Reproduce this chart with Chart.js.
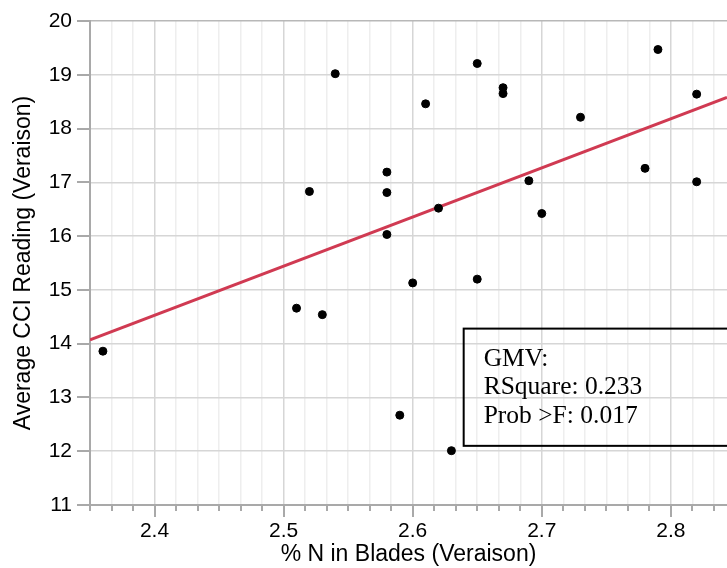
<!DOCTYPE html>
<html>
<head>
<meta charset="utf-8">
<script src="https://cdn.jsdelivr.net/npm/chart.js@4/dist/chart.umd.min.js"></script>
<style>
  html, body { margin: 0; padding: 0; background: #fff; }
  #wrap { width: 727px; height: 568px; }
</style>
</head>
<body>
<div id="wrap"><canvas id="cciChart" width="727" height="568"></canvas></div>
<script>
// % N in blades vs average CCI reading, both at veraison
let nBlades = [2.36, 2.51, 2.53, 2.52, 2.54, 2.58, 2.58, 2.58, 2.59, 2.60, 2.61, 2.62,
               2.63, 2.65, 2.65, 2.67, 2.67, 2.69, 2.70, 2.73, 2.78, 2.79, 2.82, 2.82];
let cciReading = [13.86, 14.66, 14.54, 16.83, 19.02, 17.19, 16.81, 16.03, 12.67, 15.13, 18.46, 16.52,
                  12.01, 19.21, 15.20, 18.76, 18.65, 17.03, 16.42, 18.21, 17.26, 19.47, 18.64, 17.01];

// fitted line, read at both ends of the x range
let fitX = [2.35, 2.8435];
let fitY = [14.07, 18.58];

let xMajorTicks = [2.4, 2.5, 2.6, 2.7, 2.8];
let yTicks = [11, 12, 13, 14, 15, 16, 17, 18, 19, 20];
let statsLines = ['GMV:', 'RSquare: 0.233', 'Prob >F: 0.017'];

let xMin = 2.35, xMax = 2.8435;
let yMin = 11, yMax = 20;

let axisFont = 'Liberation Sans, Arial, Helvetica, sans-serif';

// x gets 5 minor lines between each pair of labelled ticks
function buildXTicks() {
    let out = [];
    let step = 0.1 / 6;
    for (let m = 2.3; m < 2.95; m += 0.1) {
        let base = Math.round(m * 10) / 10;
        for (let j = 0; j < 6; j++) {
            let v = base + j * step;
            if (v >= xMin - 1e-9 && v <= xMax + 1e-9) {
                let isMajor = j === 0 && xMajorTicks.some(t => Math.abs(t - base) < 1e-9);
                out.push({ value: v, major: isMajor });
            }
        }
    }
    return out;
}

let points = nBlades.map((x, i) => ({ x: x, y: cciReading[i] }));
let fitPoints = fitX.map((x, i) => ({ x: x, y: fitY[i] }));

// tick marks outside the plot: long at labelled ticks, short at minor ones
let tickMarks = {
    id: 'tickMarks',
    afterDraw(chart) {
        let ctx = chart.ctx;
        let xs = chart.scales.x, ys = chart.scales.y;
        let area = chart.chartArea;
        ctx.save();
        ctx.strokeStyle = '#a9a9a9';
        ctx.lineWidth = 2;
        ctx.beginPath();
        xs.ticks.forEach(t => {
            let px = Math.round(xs.getPixelForValue(t.value));
            ctx.moveTo(px, area.bottom);
            ctx.lineTo(px, area.bottom + (t.major ? 12 : 6));
        });
        yTicks.forEach(v => {
            let py = Math.round(ys.getPixelForValue(v));
            ctx.moveTo(area.left, py);
            ctx.lineTo(area.left - 13, py);
        });
        ctx.stroke();
        ctx.restore();
    }
};

// boxed fit statistics, anchored in data units
let statsBox = {
    id: 'statsBox',
    afterDatasetsDraw(chart) {
        let ctx = chart.ctx;
        let xs = chart.scales.x, ys = chart.scales.y;
        let left = xs.getPixelForValue(2.6395);
        let top = ys.getPixelForValue(14.28);
        let bottom = ys.getPixelForValue(12.1);
        ctx.save();
        ctx.strokeStyle = '#000';
        ctx.lineWidth = 2;
        ctx.strokeRect(left, top, chart.width + 20 - left, bottom - top);
        ctx.fillStyle = '#000';
        ctx.font = '25.5px "Liberation Serif", "Times New Roman", serif';
        ctx.textBaseline = 'alphabetic';
        ctx.textAlign = 'left';
        statsLines.forEach((s, i) => {
            ctx.fillText(s, left + 20, top + 37.5 + i * 28.3);
        });
        ctx.restore();
    }
};

let ctx = document.getElementById('cciChart').getContext('2d');

let myChart = new Chart(ctx, {
    type: 'scatter',
    data: {
        datasets: [
            {
                label: 'CCI',
                data: points,
                backgroundColor: '#000',
                borderColor: '#000',
                pointRadius: 4,
                pointHoverRadius: 4,
                order: 1
            },
            {
                type: 'line',
                label: 'Fit',
                data: fitPoints,
                borderColor: '#d03a52',
                borderWidth: 3,
                pointRadius: 0,
                fill: false,
                order: 2
            }
        ]
    },
    options: {
        responsive: false,
        maintainAspectRatio: false,
        animation: false,
        layout: { autoPadding: false, padding: { top: 21, right: 0, bottom: 0, left: 0 } },
        plugins: {
            legend: { display: false },
            tooltip: { enabled: false }
        },
        scales: {
            x: {
                type: 'linear',
                min: xMin,
                max: xMax,
                afterBuildTicks: scale => { scale.ticks = buildXTicks(); },
                afterFit: scale => {
                    scale.height = 63;
                    scale.paddingLeft = 0;
                    scale.paddingRight = 0;
                },
                grid: {
                    drawTicks: false,
                    lineWidth: 1.5,
                    color: c => (c.tick && c.tick.major) ? '#d6d6d6' : '#eeeeee'
                },
                border: { color: '#a9a9a9', width: 2 },
                ticks: {
                    autoSkip: false,
                    maxRotation: 0,
                    padding: 14,
                    color: '#000',
                    font: { family: axisFont, size: 21 },
                    callback: function (value, index, ticks) {
                        return ticks[index].major ? value.toFixed(1) : '';
                    }
                },
                title: {
                    display: true,
                    text: '% N in Blades (Veraison)',
                    color: '#000',
                    padding: { top: 0, bottom: 0 },
                    font: { family: axisFont, size: 23 }
                }
            },
            y: {
                type: 'linear',
                min: yMin,
                max: yMax,
                afterBuildTicks: scale => { scale.ticks = yTicks.map(v => ({ value: v })); },
                afterFit: scale => {
                    scale.width = 90;
                    scale.paddingTop = 0;
                    scale.paddingBottom = 0;
                },
                grid: {
                    drawTicks: false,
                    lineWidth: 1.5,
                    color: c => (c.tick && c.tick.value === yMax) ? '#b8b8b8' : '#d6d6d6'
                },
                border: { color: '#a9a9a9', width: 2 },
                ticks: {
                    padding: 18,
                    color: '#000',
                    font: { family: axisFont, size: 21 }
                },
                title: {
                    display: true,
                    text: 'Average CCI Reading (Veraison)',
                    color: '#000',
                    padding: { top: 10, bottom: 0 },
                    font: { family: axisFont, size: 23 }
                }
            }
        }
    },
    plugins: [tickMarks, statsBox]
});
</script>
</body>
</html>
